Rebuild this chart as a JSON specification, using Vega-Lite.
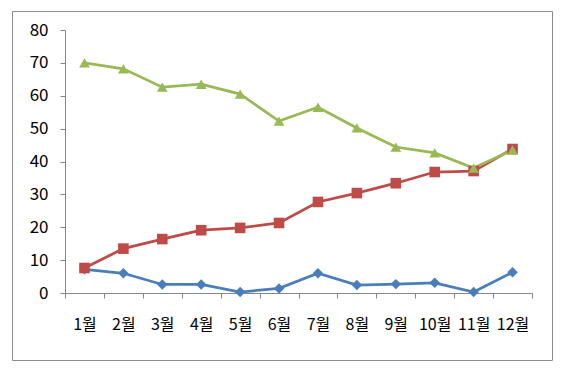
{
  "$schema": "https://vega.github.io/schema/vega-lite/v6.json",
  "autosize": {"type": "none"},
  "width": 540,
  "height": 349,
  "padding": {"left": 12, "top": 11, "right": 11, "bottom": 12},
  "background": "white",
  "config": {
    "view": {"stroke": "#8c8c8c", "strokeWidth": 1},
    "axis": {
      "grid": false,
      "domainColor": "#868686",
      "tickColor": "#868686",
      "labelFont": "Noto Sans CJK KR",
      "labelFontSize": 16,
      "labelColor": "#000000",
      "tickSize": 5,
      "title": null
    }
  },
  "data": {
    "values": [
      {"m": "1월", "s": "s1", "v": 7.2}, {"m": "2월", "s": "s1", "v": 6.0}, {"m": "3월", "s": "s1", "v": 2.6},
      {"m": "4월", "s": "s1", "v": 2.6}, {"m": "5월", "s": "s1", "v": 0.3}, {"m": "6월", "s": "s1", "v": 1.4},
      {"m": "7월", "s": "s1", "v": 6.0}, {"m": "8월", "s": "s1", "v": 2.4}, {"m": "9월", "s": "s1", "v": 2.7},
      {"m": "10월", "s": "s1", "v": 3.1}, {"m": "11월", "s": "s1", "v": 0.3}, {"m": "12월", "s": "s1", "v": 6.3},
      {"m": "1월", "s": "s2", "v": 7.6}, {"m": "2월", "s": "s2", "v": 13.5}, {"m": "3월", "s": "s2", "v": 16.4},
      {"m": "4월", "s": "s2", "v": 19.1}, {"m": "5월", "s": "s2", "v": 19.8}, {"m": "6월", "s": "s2", "v": 21.3},
      {"m": "7월", "s": "s2", "v": 27.7}, {"m": "8월", "s": "s2", "v": 30.4}, {"m": "9월", "s": "s2", "v": 33.4},
      {"m": "10월", "s": "s2", "v": 36.8}, {"m": "11월", "s": "s2", "v": 37.1}, {"m": "12월", "s": "s2", "v": 43.8},
      {"m": "1월", "s": "s3", "v": 70.0}, {"m": "2월", "s": "s3", "v": 68.2}, {"m": "3월", "s": "s3", "v": 62.6},
      {"m": "4월", "s": "s3", "v": 63.5}, {"m": "5월", "s": "s3", "v": 60.5}, {"m": "6월", "s": "s3", "v": 52.3},
      {"m": "7월", "s": "s3", "v": 56.5}, {"m": "8월", "s": "s3", "v": 50.2}, {"m": "9월", "s": "s3", "v": 44.4},
      {"m": "10월", "s": "s3", "v": 42.6}, {"m": "11월", "s": "s3", "v": 38.0}, {"m": "12월", "s": "s3", "v": 43.5}
    ]
  },
  "encoding": {
    "x": {
      "field": "m",
      "type": "ordinal",
      "sort": ["1월", "2월", "3월", "4월", "5월", "6월", "7월", "8월", "9월", "10월", "11월", "12월"],
      "scale": {"type": "band", "range": [53, 520], "paddingInner": 0, "paddingOuter": 0},
      "axis": {"offset": -67, "tickBand": "extent", "labelAngle": 0, "labelPadding": 18}
    },
    "y": {
      "field": "v",
      "type": "quantitative",
      "scale": {"domain": [0, 80], "range": [282, 19], "nice": false, "zero": true},
      "axis": {"offset": -53, "values": [0, 10, 20, 30, 40, 50, 60, 70, 80], "labelPadding": 12, "labelFontSize": 17}
    },
    "color": {
      "field": "s",
      "type": "nominal",
      "scale": {"domain": ["s1", "s2", "s3"], "range": ["#4A7EBB", "#BE4B48", "#98B954"]},
      "legend": null
    }
  },
  "layer": [
    {"mark": {"type": "line", "strokeWidth": 2.75}},
    {
      "mark": {"type": "point", "filled": true, "opacity": 1},
      "encoding": {
        "shape": {
          "field": "s",
          "type": "nominal",
          "scale": {"domain": ["s1", "s2", "s3"], "range": ["diamond", "square", "triangle-up"]},
          "legend": null
        },
        "size": {
          "field": "s",
          "type": "nominal",
          "scale": {"domain": ["s1", "s2", "s3"], "range": [110, 115, 150]},
          "legend": null
        }
      }
    }
  ]
}
